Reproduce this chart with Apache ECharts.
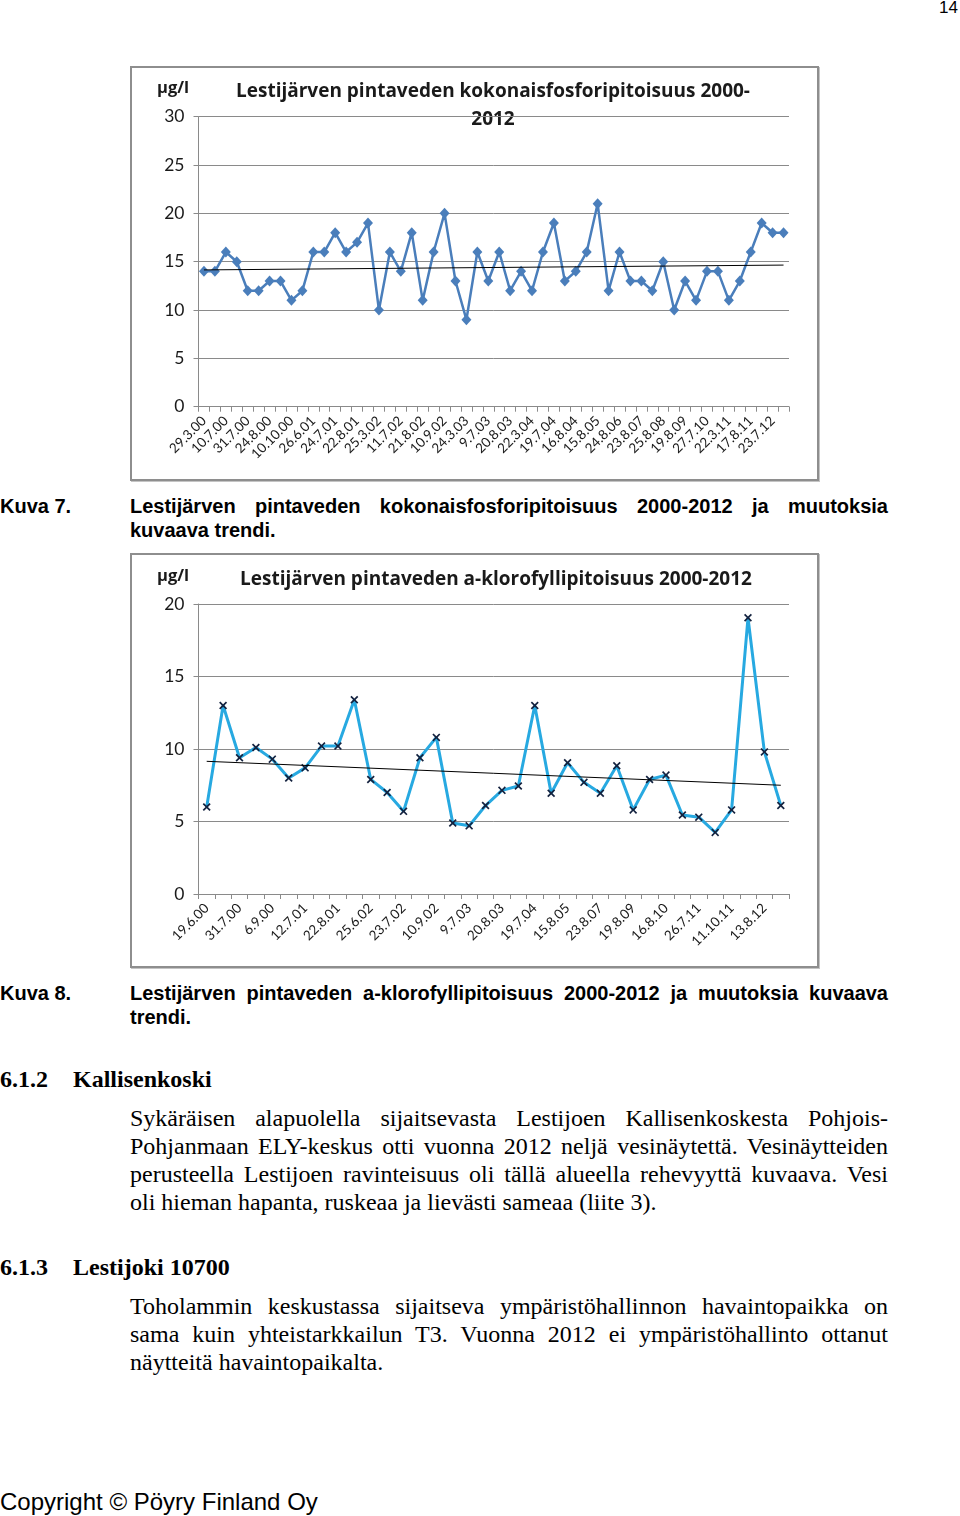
<!DOCTYPE html>
<html>
<head>
<meta charset="utf-8">
<script src="https://cdn.jsdelivr.net/npm/echarts@6/dist/echarts.min.js"></script>
<style>
  html, body { margin: 0; padding: 0; background: #fff; }
  body { width: 960px; height: 1516px; position: relative; overflow: hidden; }
  .frame { position: absolute; box-sizing: border-box; border: 2px solid #8e8e8e; box-shadow: 1px 1px 0 #c4c4c4; }
  .chart { position: absolute; }
  .t { position: absolute; white-space: nowrap; color: #000; }
  .cap { font-family: "Liberation Sans", Arial, sans-serif; font-weight: bold; font-size: 20px; line-height: 24px; }
  .ser { font-family: "Liberation Serif", "Times New Roman", serif; font-size: 24px; line-height: 28px; }
  .just { width: 758px; text-align: justify; text-align-last: justify; white-space: normal; }
</style>
</head>
<body>
<div class="t" style="right:2px; top:-2px; font-family:'Liberation Sans',Arial,sans-serif; font-size:17px; line-height:20px;">14</div>

<div class="frame" style="left:130px; top:66px; width:689px; height:415px;"></div>
<div id="c1" class="chart" style="left:130px; top:66px; width:689px; height:415px;"></div>

<div class="t cap" style="left:0; top:494px;">Kuva 7.</div>
<div class="t cap just" style="left:130px; top:494px;">Lestijärven pintaveden kokonaisfosforipitoisuus 2000-2012 ja muutoksia</div>
<div class="t cap" style="left:130px; top:518px;">kuvaava trendi.</div>

<div class="frame" style="left:130px; top:553px; width:689px; height:415px;"></div>
<div id="c2" class="chart" style="left:130px; top:553px; width:689px; height:415px;"></div>

<div class="t cap" style="left:0; top:981px;">Kuva 8.</div>
<div class="t cap just" style="left:130px; top:981px;">Lestijärven pintaveden a-klorofyllipitoisuus 2000-2012 ja muutoksia kuvaava</div>
<div class="t cap" style="left:130px; top:1005px;">trendi.</div>

<div class="t ser" style="left:0; top:1065px; font-weight:bold;">6.1.2</div>
<div class="t ser" style="left:73px; top:1065px; font-weight:bold;">Kallisenkoski</div>
<div class="t ser just" style="left:130px; top:1104px;">Sykäräisen alapuolella sijaitsevasta Lestijoen Kallisenkoskesta Pohjois-</div>
<div class="t ser just" style="left:130px; top:1132px;">Pohjanmaan ELY-keskus otti vuonna 2012 neljä vesinäytettä. Vesinäytteiden</div>
<div class="t ser just" style="left:130px; top:1160px;">perusteella Lestijoen ravinteisuus oli tällä alueella rehevyyttä kuvaava. Vesi</div>
<div class="t ser" style="left:130px; top:1188px;">oli hieman hapanta, ruskeaa ja lievästi sameaa (liite 3).</div>

<div class="t ser" style="left:0; top:1253px; font-weight:bold;">6.1.3</div>
<div class="t ser" style="left:73px; top:1253px; font-weight:bold;">Lestijoki 10700</div>
<div class="t ser just" style="left:130px; top:1292px;">Toholammin keskustassa sijaitseva ympäristöhallinnon havaintopaikka on</div>
<div class="t ser just" style="left:130px; top:1320px;">sama kuin yhteistarkkailun T3. Vuonna 2012 ei ympäristöhallinto ottanut</div>
<div class="t ser" style="left:130px; top:1348px;">näytteitä havaintopaikalta.</div>

<div class="t" style="left:0; top:1488px; font-family:'Liberation Sans',Arial,sans-serif; font-size:24px; line-height:28px;">Copyright © Pöyry Finland Oy</div>

<script>
// ---- Data: Chart 1 (kokonaisfosfori, µg/l) ----
const labels1 = ['29.3.00','10.7.00','31.7.00','24.8.00','10.10.00','26.6.01','24.7.01','22.8.01','25.3.02','11.7.02','21.8.02','10.9.02','24.3.03','9.7.03','20.8.03','22.3.04','19.7.04','16.8.04','15.8.05','24.8.06','23.8.07','25.8.08','19.8.09','27.7.10','22.3.11','17.8.11','23.7.12'];
const phosphorus = [14,14,16,15,12,12,13,13,11,12,16,16,18,16,17,19,10,16,14,18,11,16,20,13,9,16,13,16,12,14,12,16,19,13,14,16,21,12,16,13,13,12,15,10,13,11,14,14,11,13,16,19,18,18];
const trend1 = [14.15, 14.65];
const yTicks1 = [0, 30, 5];

// ---- Data: Chart 2 (a-klorofylli, µg/l) ----
const labels2 = ['19.6.00','31.7.00','6.9.00','12.7.01','22.8.01','25.6.02','23.7.02','10.9.02','9.7.03','20.8.03','19.7.04','15.8.05','23.8.07','19.8.09','16.8.10','26.7.11','11.10.11','13.8.12'];
const chlorophyll = [6.0,13.0,9.4,10.1,9.3,8.0,8.7,10.2,10.2,13.4,7.9,7.0,5.7,9.4,10.8,4.9,4.7,6.1,7.15,7.45,13.0,6.95,9.05,7.7,6.95,8.85,5.8,7.9,8.2,5.45,5.3,4.25,5.8,19.05,9.8,6.1];
const trend2 = [9.15, 7.5];
const yTicks2 = [0, 20, 5];

const title1 = ['Lestijärven pintaveden kokonaisfosforipitoisuus 2000-', '2012'];
const title2 = ['Lestijärven pintaveden a-klorofyllipitoisuus 2000-2012'];
const unit = 'µg/l';

function buildCats(labels) {
  const c = [];
  labels.forEach(l => { c.push(l, ''); });
  return c;
}

const GRID = '#8a8a8a';
const chartFont = 'Lato, "Open Sans", sans-serif';
const boldFont = '"Open Sans", "Noto Sans", sans-serif';

function makeOption(cfg) {
  const cats = buildCats(cfg.labels);
  const last = cfg.values.length - 1;
  const graphics = [];
  graphics.push({ type: 'text', left: 27, top: cfg.unitTop, style: { text: unit, fontWeight: 'bold', fontSize: 16.5, fontFamily: boldFont, fill: '#1a1a1a' } });
  cfg.title.forEach((line, i) => {
    graphics.push({ type: 'text', x: cfg.titleX, y: cfg.titleY + i * 28, style: { text: line, fontWeight: 'bold', fontSize: 19, fontFamily: boldFont, fill: '#1a1a1a', align: 'center', verticalAlign: 'middle' } });
  });
  return {
    animation: false,
    grid: { left: 68.5, right: 30, top: cfg.gridTop, bottom: cfg.gridBottom, containLabel: false },
    graphic: graphics,
    xAxis: {
      type: 'category',
      data: cats,
      boundaryGap: true,
      axisLine: { show: true, lineStyle: { color: GRID, width: 1 } },
      axisTick: { show: true, interval: 0, length: 5, lineStyle: { color: GRID } },
      axisLabel: { interval: 0, rotate: 45, margin: 12, fontSize: 13.5, fontFamily: chartFont, color: '#1a1a1a' },
      splitLine: { show: false }
    },
    yAxis: {
      type: 'value',
      min: cfg.yTicks[0], max: cfg.yTicks[1], interval: cfg.yTicks[2],
      axisLine: { show: true, lineStyle: { color: GRID, width: 1 } },
      axisTick: { show: true, length: 5, lineStyle: { color: GRID } },
      axisLabel: { margin: 14, fontSize: 17.5, fontFamily: chartFont, color: '#1a1a1a' },
      splitLine: { show: true, lineStyle: { color: GRID, width: 1 } }
    },
    series: [
      {
        type: 'line',
        data: cfg.values,
        symbol: cfg.symbol,
        symbolSize: cfg.symbolSize,
        showAllSymbol: true,
        lineStyle: { color: cfg.lineColor, width: cfg.lineWidth },
        itemStyle: { color: cfg.symbolColor, opacity: 1 },
        z: 2
      },
      {
        type: 'line',
        data: [[0, cfg.trend[0]], [last, cfg.trend[1]]],
        symbol: 'none',
        lineStyle: { color: '#000', width: 1 },
        z: 3,
        silent: true
      }
    ]
  };
}

const xPath = 'path://M1.5,0 L5,3.5 L8.5,0 L10,1.5 L6.5,5 L10,8.5 L8.5,10 L5,6.5 L1.5,10 L0,8.5 L3.5,5 L0,1.5 Z';

const c1 = echarts.init(document.getElementById('c1'), null, { renderer: 'canvas' });
c1.setOption(makeOption({
  labels: labels1, values: phosphorus, trend: trend1, yTicks: yTicks1,
  title: title1, titleX: 363, titleY: 25.5, unitTop: 14,
  gridTop: 50.7, gridBottom: 74.3,
  symbol: 'diamond', symbolSize: [10, 11], symbolColor: '#4A7EBB',
  lineColor: '#4A7EBB', lineWidth: 2.5
}));

const c2 = echarts.init(document.getElementById('c2'), null, { renderer: 'canvas' });
c2.setOption(makeOption({
  labels: labels2, values: chlorophyll, trend: trend2, yTicks: yTicks2,
  title: title2, titleX: 366, titleY: 26.5, unitTop: 15,
  gridTop: 51, gridBottom: 74,
  symbol: xPath, symbolSize: 8, symbolColor: '#14223f',
  lineColor: '#27A9E1', lineWidth: 3
}));
</script>
</body>
</html>
